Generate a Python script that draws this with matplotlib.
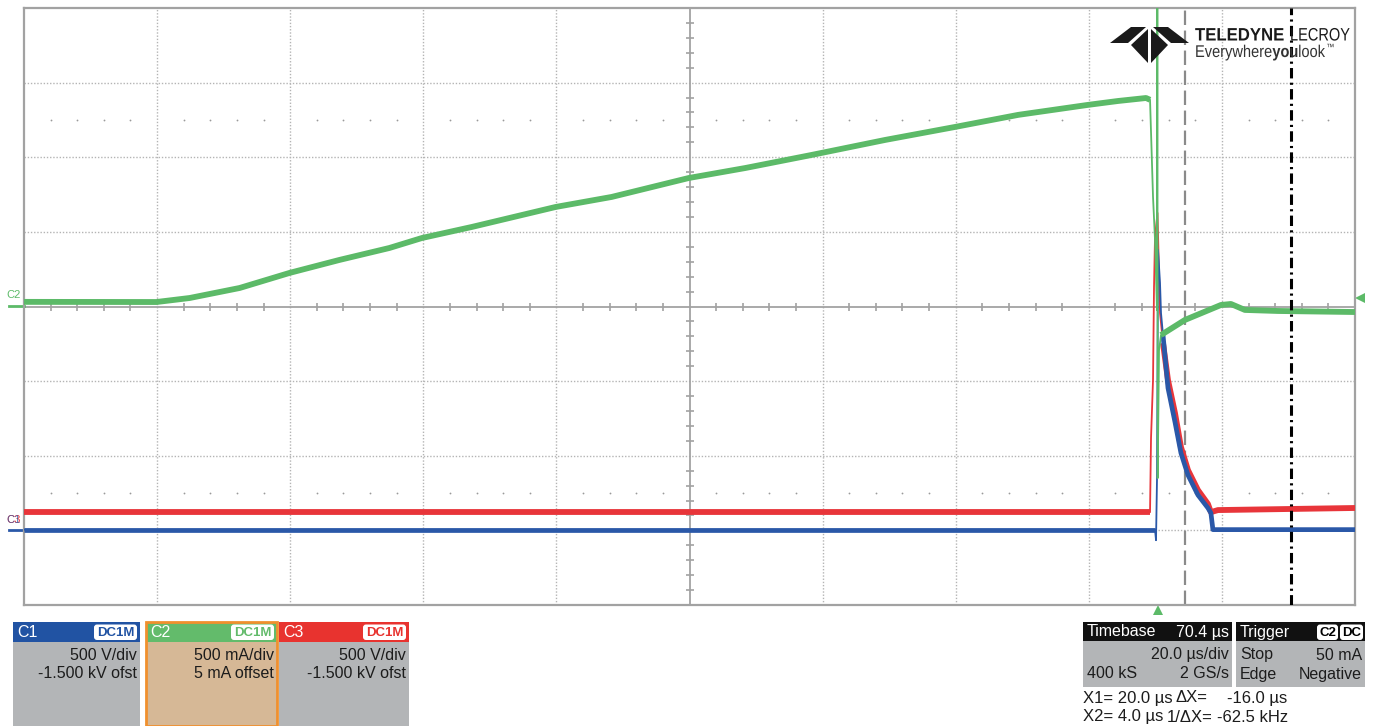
import numpy as np
import matplotlib.pyplot as plt
from matplotlib.patches import Rectangle, FancyBboxPatch, Polygon, PathPatch
from matplotlib.textpath import TextPath
from matplotlib.font_manager import FontProperties
from matplotlib.transforms import Affine2D

plt.rcParams['font.family'] = ['Liberation Sans', 'DejaVu Sans']

# scope settings
t_div = 20.0        # us/div
t_delay = 70.4      # us, trigger sits right of centre
x1_cur = 20.0       # us
x2_cur = 4.0        # us
c1_scale, c1_ofst = 500.0, -1500.0   # V/div, V
c2_scale, c2_ofst = 500.0, 5.0       # mA/div, mA
c3_scale, c3_ofst = 500.0, -1500.0   # V/div, V
trig_lvl = 50.0                      # mA on C2

# C2 current (mA) vs time (us, 0 = trigger)
c2_t = [-170.4, -150.5, -145.5, -138.0, -130.5, -123.0, -115.5, -110.6, -103.1,
        -90.5, -82.1, -70.5, -62.0, -52.1, -41.0, -30.5, -21.0, -10.5, -6.0,
        -1.8, -1.2, -0.75, -0.45, -0.15, -0.1, -0.05, 0.15, 0.45, 4.05, 9.45,
        10.95, 13.05, 18.0, 29.6]
c2_i = [26, 25, 52, 119, 220, 307, 387, 454, 528,
        662, 729, 856, 923, 1010, 1111, 1198, 1279, 1346, 1372,
        1392, 1380, 729, 441, -30, 2500, -1155, -300, -196, -95, 5,
        12, -28, -35, -42]

# C1 voltage (V)
c1_t = [-170.4, -0.45, -0.3, -0.15, -0.05, 0.0, 0.3, 0.45, 0.75, 1.5, 2.55,
        3.45, 4.5, 6.0, 7.5, 7.95, 8.25, 29.6]
c1_v = [5, 5, -66, 350, 1342, 1879, 1658, 1456, 1309, 954, 726,
        518, 371, 237, 150, 116, 5, 5]

# C3 voltage (V)
c3_t = [-170.4, -1.2, -1.05, -0.75, -0.6, -0.45, -0.08, 0.3, 0.75, 1.5, 2.55,
        3.45, 4.5, 6.0, 7.5, 7.95, 9.0, 29.6]
c3_v = [122, 122, 619, 1007, 1631, 1966, 2127, 1456, 1255, 1007, 786,
        558, 404, 270, 177, 122, 136, 150]

GREEN = '#5cba68'
BLUE = '#2a58a8'
RED = '#e8353a'
GRID = '#b4b4b4'
AXIS = '#a2a2a2'


def to_div(vals, scale, ofst):
    return (np.asarray(vals, dtype=float) + ofst) / scale


W, H = 1378, 726
fig = plt.figure(figsize=(W / 100, H / 100), dpi=100)
fig.patch.set_facecolor('white')

ax = fig.add_axes([24 / W, 121 / H, 1331 / W, 597 / H])
t_left = -5 * t_div - t_delay
t_right = 5 * t_div - t_delay
ax.set_xlim(t_left, t_right)
ax.set_ylim(-4, 4)
ax.set_xticks([])
ax.set_yticks([])
for s in ax.spines.values():
    s.set_color(AXIS)
    s.set_linewidth(1.6)

# graticule
cx = -t_delay
dot = dict(color=GRID, lw=1.0, ls=(0, (1, 1.3)), zorder=1)
for k in range(1, 10):
    if k != 5:
        ax.axvline(t_left + k * t_div, **dot)
for k in (-3, -2, -1, 1, 2, 3):
    ax.axhline(k, **dot)
ax.axvline(cx, color=AXIS, lw=1.3, zorder=1)
ax.axhline(0, color=AXIS, lw=1.3, zorder=1)

n = np.arange(1, 50)
sub_t = t_left + n[n % 5 != 0] * t_div / 5
ax.plot(sub_t, np.zeros_like(sub_t), ls='none', marker='|', ms=6, mew=1.2,
        color=AXIS, zorder=1)
m = np.arange(-19, 20)
sub_v = m[m % 5 != 0] * 0.2
ax.plot(np.full_like(sub_v, cx), sub_v, ls='none', marker='_', ms=6, mew=1.2,
        color=AXIS, zorder=1)
for row in (2.5, -2.5):
    ax.plot(sub_t, np.full_like(sub_t, row), ls='none', marker='o', ms=1.3,
            mew=0, color='#9a9a9a', zorder=1)

# cursors
ax.axvline(x2_cur, color='#8a8a8a', lw=1.6, ls=(0, (6.5, 2.5)), zorder=2)
ax.axvline(x1_cur, color='black', lw=2.2, ls=(0, (3.4, 1.4, 0.7, 1.4)), zorder=7)

# traces: thin everywhere, thick where the noise band shows
y3 = to_div(c3_v, c3_scale, c3_ofst)
ax.plot(c3_t, y3, color=RED, lw=1.3, zorder=3)
ax.plot(c3_t[:2], y3[:2], color=RED, lw=4.2, solid_capstyle='butt', zorder=3)
ax.plot(c3_t[8:], y3[8:], color=RED, lw=4.2, solid_capstyle='butt', zorder=3)

y1 = to_div(c1_v, c1_scale, c1_ofst)
ax.plot(c1_t, y1, color=BLUE, lw=1.3, zorder=4)
ax.plot(c1_t[:2], y1[:2], color=BLUE, lw=3.4, solid_capstyle='butt', zorder=4)
ax.plot(c1_t[8:], y1[8:], color=BLUE, lw=3.4, solid_capstyle='butt', zorder=4)

y2 = to_div(c2_i, c2_scale, c2_ofst)
ax.plot(c2_t, y2, color=GREEN, lw=1.3, zorder=5)
ax.plot(c2_t[:21], y2[:21], color=GREEN, lw=4.2, solid_capstyle='butt', zorder=5)
ax.plot(c2_t[27:], y2[27:], color=GREEN, lw=4.2, solid_capstyle='butt', zorder=5)

# trigger position / level markers
ax.plot([0], [-4.07], marker='^', ms=7, color=GREEN, mew=0, clip_on=False)
ax.plot([t_right + 0.8], to_div([trig_lvl], c2_scale, c2_ofst), marker='<',
        ms=7, color=GREEN, mew=0, clip_on=False)

# channel ground markers on the left edge
yt = ax.get_yaxis_transform()
g2 = to_div([0], c2_scale, c2_ofst)[0]
g1 = to_div([0], c1_scale, c1_ofst)[0]
ax.plot([-0.011, 0], [g2, g2], color=GREEN, lw=2, transform=yt, clip_on=False)
ax.text(-0.0075, g2 + 0.15, 'C2', color=GREEN, fontsize=8, ha='center',
        va='center', transform=yt)
ax.plot([-0.011, 0], [g1, g1], color=BLUE, lw=2, transform=yt, clip_on=False)
ax.text(-0.0075, g1 + 0.14, 'C3', color=RED, fontsize=8, ha='center',
        va='center', transform=yt)
ax.text(-0.0075, g1 + 0.14, 'C1', color=BLUE, fontsize=8, ha='center',
        va='center', transform=yt, alpha=0.7)

# overlay in pixel coordinates for panels and logo
ov = fig.add_axes([0, 0, 1, 1], zorder=3)
ov.set_xlim(0, W)
ov.set_ylim(H, 0)
ov.axis('off')

BODY = '#b3b5b7'
TXT = '#1c1c1c'
FS = 11.5


def badge(x0, x1, label, color):
    ov.add_patch(FancyBboxPatch((x0, 624.5), x1 - x0, 15.5,
                                boxstyle='round,pad=0,rounding_size=3',
                                fc='white', ec='none'))
    ov.text((x0 + x1) / 2, 632.5, label, color=color, fontsize=9.5,
            weight='bold', ha='center', va='center')


def chan_box(x0, x1, name, head, body, line1, line2):
    ov.add_patch(Rectangle((x0, 642), x1 - x0, 84, color=body, lw=0))
    ov.add_patch(Rectangle((x0, 622), x1 - x0, 20, color=head, lw=0))
    ov.text(x0 + 4, 632.5, name, color='white', fontsize=FS, va='center')
    badge(x1 - 46, x1 - 3, 'DC1M', head)
    ov.text(x1 - 3, 655, line1, ha='right', va='center', fontsize=FS, color=TXT)
    ov.text(x1 - 3, 674, line2, ha='right', va='center', fontsize=FS, color=TXT)


chan_box(13, 140, 'C1', '#2153a3', BODY, '500 V/div', '-1.500 kV ofst')
chan_box(146, 277, 'C2', '#63bb6b', '#d6b896', '500 mA/div', '5 mA offset')
ov.add_patch(Rectangle((146, 622), 131, 104, fill=False, ec='#f0902e', lw=2))
chan_box(279, 409, 'C3', '#e8332f', BODY, '500 V/div', '-1.500 kV ofst')

# timebase box
ov.add_patch(Rectangle((1083, 641), 149, 46, color=BODY, lw=0))
ov.add_patch(Rectangle((1083, 622), 149, 19, color='#111111', lw=0))
ov.text(1087, 632, 'Timebase', color='white', fontsize=FS, va='center')
ov.text(1229, 632, f'{t_delay:.1f} µs', color='white', fontsize=FS,
        va='center', ha='right')
ov.text(1229, 655, f'{t_div:.1f} µs/div', color=TXT, fontsize=FS, va='center',
        ha='right')
ov.text(1087, 674, '400 kS', color=TXT, fontsize=FS, va='center')
ov.text(1229, 674, '2 GS/s', color=TXT, fontsize=FS, va='center', ha='right')

# trigger box
ov.add_patch(Rectangle((1236, 641), 129, 46, color=BODY, lw=0))
ov.add_patch(Rectangle((1236, 622), 129, 19, color='#111111', lw=0))
ov.text(1240, 632, 'Trigger', color='white', fontsize=FS, va='center')
badge(1317, 1338, 'C2', 'black')
badge(1340, 1363, 'DC', 'black')
ov.text(1240, 655, 'Stop', color=TXT, fontsize=FS, va='center')
ov.text(1362, 655, f'{trig_lvl:.0f} mA', color=TXT, fontsize=FS, va='center',
        ha='right')
ov.text(1240, 674, 'Edge', color=TXT, fontsize=FS, va='center')
ov.text(1362, 674, 'Negative', color=TXT, fontsize=FS, va='center', ha='right')

# cursor readout
dx = x2_cur - x1_cur
ov.text(1083, 698, f'X1= {x1_cur:.1f} µs', color=TXT, fontsize=12, va='center')
ov.text(1176, 698, 'ΔX=', color=TXT, fontsize=12, va='center')
ov.text(1227, 698, f'{dx:.1f} µs', color=TXT, fontsize=12, va='center')
ov.text(1083, 717, f'X2= {x2_cur:.1f} µs', color=TXT, fontsize=12, va='center')
ov.text(1167, 717, '1/ΔX=', color=TXT, fontsize=12, va='center')
ov.text(1217, 717, f'{1e3 / dx:.1f} kHz', color=TXT, fontsize=12, va='center')

# logo
logo = [
    [(1110, 43), (1131, 27), (1146, 27), (1128, 43)],
    [(1189, 43), (1168, 27), (1153, 27), (1171, 43)],
    [(1131, 45), (1148, 29), (1148, 63)],
    [(1168, 45), (1151, 29), (1151, 63)],
]
for pts in logo:
    ov.add_patch(Polygon(pts, closed=True, fc='#1a1a1a', ec='none'))


def squeezed(x, base, s, size, sx, weight='normal', color='#1a1a1a'):
    # condensed lettering: text outline scaled narrower than it is tall
    tp = TextPath((0, 0), s, size=size,
                  prop=FontProperties(family='Liberation Sans', weight=weight))
    tr = Affine2D().scale(sx, -1).translate(x, base) + ov.transData
    ov.add_patch(PathPatch(tp, fc=color, ec='none', transform=tr))
    return x + tp.get_extents().x1 * sx


squeezed(1195, 40.5, 'TELEDYNE', 18, 0.93, weight='bold')
squeezed(1290, 40.5, 'LECROY', 18, 0.81)
x = 1195
for part, wt in (('Everywhere', 'normal'), ('you', 'bold'), ('look', 'normal')):
    x = squeezed(x, 57, part, 17, 0.86, weight=wt, color='#333333') + 0.8
squeezed(x + 0.5, 50, '™', 9, 0.9, color='#333333')

fig.savefig('out.png', dpi=100)
